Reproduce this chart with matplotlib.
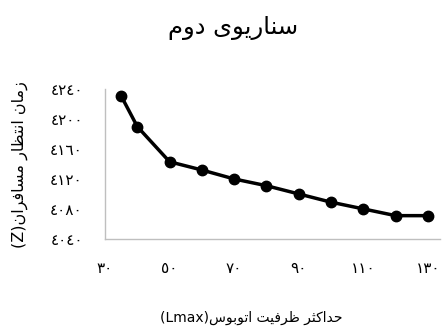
import matplotlib
matplotlib.use("Agg")
import matplotlib.pyplot as plt

# Daten
lmax = [35, 40, 50, 60, 70, 80, 90, 100, 110, 120, 130]
wartezeit = [4231, 4190, 4143, 4132, 4120, 4111, 4100, 4089, 4080, 4071, 4071]

x_ticks = [30, 50, 70, 90, 110, 130]
x_ticklabels = ["٣٠", "٥٠", "٧٠", "٩٠", "١١٠", "١٣٠"]
y_ticks = [4040, 4080, 4120, 4160, 4200, 4240]
y_ticklabels = ["٤٠٤٠", "٤٠٨٠", "٤١٢٠", "٤١٦٠", "٤٢٠٠", "٤٢٤٠"]

title_txt = "سناریوی دوم"
xlabel_txt = "حداکثر ظرفیت اتوبوس"
ylabel_txt = "زمان انتظار مسافران"

# Arabische Buchstabenformen (isol, fina, init, medi)
FORMS = {
    'ا': ('\uFE8D', '\uFE8E'),
    'ب': ('\uFE8F', '\uFE90', '\uFE91', '\uFE92'),
    'ت': ('\uFE95', '\uFE96', '\uFE97', '\uFE98'),
    'ث': ('\uFE99', '\uFE9A', '\uFE9B', '\uFE9C'),
    'ح': ('\uFEA1', '\uFEA2', '\uFEA3', '\uFEA4'),
    'د': ('\uFEA9', '\uFEAA'),
    'ر': ('\uFEAD', '\uFEAE'),
    'ز': ('\uFEAF', '\uFEB0'),
    'س': ('\uFEB1', '\uFEB2', '\uFEB3', '\uFEB4'),
    'ظ': ('\uFEC5', '\uFEC6', '\uFEC7', '\uFEC8'),
    'ف': ('\uFED1', '\uFED2', '\uFED3', '\uFED4'),
    'ک': ('\uFB8E', '\uFB8F', '\uFB90', '\uFB91'),
    'م': ('\uFEE1', '\uFEE2', '\uFEE3', '\uFEE4'),
    'ن': ('\uFEE5', '\uFEE6', '\uFEE7', '\uFEE8'),
    'و': ('\uFEED', '\uFEEE'),
    'ی': ('\uFBFC', '\uFBFD', '\uFBFE', '\uFBFF'),
}


def shape(s):
    out = []
    for i, c in enumerate(s):
        if c not in FORMS:
            out.append(c)
            continue
        prev = s[i - 1] if i > 0 else None
        nxt = s[i + 1] if i < len(s) - 1 else None
        join_prev = prev in FORMS and len(FORMS[prev]) == 4
        join_next = len(FORMS[c]) == 4 and nxt in FORMS
        f = FORMS[c]
        if join_prev and join_next:
            out.append(f[3])
        elif join_prev:
            out.append(f[1])
        elif join_next:
            out.append(f[2])
        else:
            out.append(f[0])
    # visuelle Reihenfolge (RTL)
    return "".join(reversed(out))


plt.rcParams['font.family'] = ['DejaVu Sans']

fig = plt.figure(figsize=(4.43, 3.29), dpi=100)
ax = fig.add_axes([0.237, 0.274, 0.756, 0.455])

ax.plot(lmax, wartezeit, color='black', linewidth=2.5, marker='o', markersize=7.5)

ax.set_xlim(30, 133.7)
ax.set_ylim(4040, 4240)
ax.set_xticks(x_ticks)
ax.set_xticklabels(x_ticklabels, fontsize=11)
ax.set_yticks(y_ticks)
ax.set_yticklabels(y_ticklabels, fontsize=11)
ax.tick_params(length=0, pad=16)

for s in ['top', 'right']:
    ax.spines[s].set_visible(False)
for s in ['left', 'bottom']:
    ax.spines[s].set_color('#bfbfbf')
    ax.spines[s].set_linewidth(1)

fig.text(0.527, 0.915, shape(title_txt), ha='center', va='center', fontsize=17.5)
fig.text(0.567, 0.035, "(Lmax)" + shape(xlabel_txt), ha='center', va='center', fontsize=10)
fig.text(0.045, 0.5, "(Z)" + shape(ylabel_txt), ha='center', va='center', fontsize=11.5, rotation=90)

fig.savefig("out.png", dpi=100)
